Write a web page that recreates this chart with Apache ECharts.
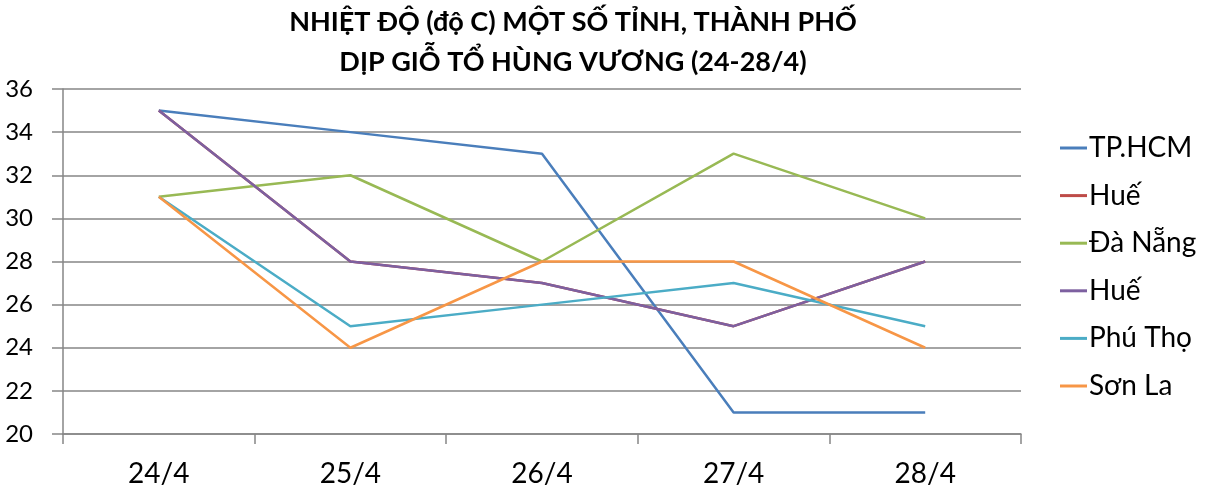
<!DOCTYPE html>
<html><head><meta charset="utf-8">
<script src="https://cdn.jsdelivr.net/npm/echarts@6/dist/echarts.min.js"></script>
<style>html,body{margin:0;padding:0;background:#fff}#c{width:1206px;height:493px}</style>
</head><body><div id="c"></div>
<script>
const categories = ['24/4','25/4','26/4','27/4','28/4'];
const seriesNames = ['TP.HCM','Huế','Đà Nẵng','Huế ','Phú Thọ','Sơn La'];
const tpHcm   = [35, 34, 33, 21, 21];
const hue1    = [35, 28, 27, 25, 28];
const daNang  = [31, 32, 28, 33, 30];
const hue2    = [35, 28, 27, 25, 28];
const phuTho  = [31, 25, 26, 27, 25];
const sonLa   = [31, 24, 28, 28, 24];
const colors = ['#4a7ebb','#be4b48','#98b954','#7d60a0','#4bacc6','#f79646'];
const allData = [tpHcm, hue1, daNang, hue2, phuTho, sonLa];
const font = 'Lato, "Open Sans", sans-serif';

const chart = echarts.init(document.getElementById('c'));
chart.setOption({
  animation: false,
  color: colors,
  title: {
    text: 'NHIỆT ĐỘ (độ C) MỘT SỐ TỈNH, THÀNH PHỐ\nDỊP GIỖ TỔ HÙNG VƯƠNG (24-28/4)',
    left: 568, top: -3, textAlign: 'center',
    textStyle: {fontFamily: font, fontSize: 27, fontWeight: 'bold', color: '#000', lineHeight: 40}
  },
  legend: {
    orient: 'vertical', left: 1060, top: 134, padding: 0,
    icon: 'rect', itemWidth: 27, itemHeight: 3, itemGap: 19.6,
    data: seriesNames,
    formatter: n => n.trim(),
    textStyle: {fontFamily: font, fontSize: 28, color: '#000', padding: [0,0,0,-3]}
  },
  grid: {left: 63, right: 185, top: 89, bottom: 59},
  xAxis: {
    type: 'category', data: categories, boundaryGap: true,
    axisLine: {lineStyle: {color: '#868686', width: 1.5}},
    axisTick: {show: true, length: 10, lineStyle: {color: '#868686', width: 1.5}},
    axisLabel: {fontFamily: font, fontSize: 28, color: '#000', margin: 26}
  },
  yAxis: {
    type: 'value', min: 20, max: 36, interval: 2,
    axisLine: {show: true, lineStyle: {color: '#868686', width: 1.5}},
    axisTick: {show: true, length: 11, lineStyle: {color: '#868686', width: 1.5}},
    splitLine: {lineStyle: {color: '#868686', width: 1.5}},
    axisLabel: {fontFamily: font, fontSize: 24, color: '#000', margin: 30}
  },
  series: seriesNames.map((n, i) => ({
    name: n, type: 'line', data: allData[i], symbol: 'none',
    lineStyle: {width: 2.5, color: colors[i]}, itemStyle: {color: colors[i]}
  }))
});
</script></body></html>
